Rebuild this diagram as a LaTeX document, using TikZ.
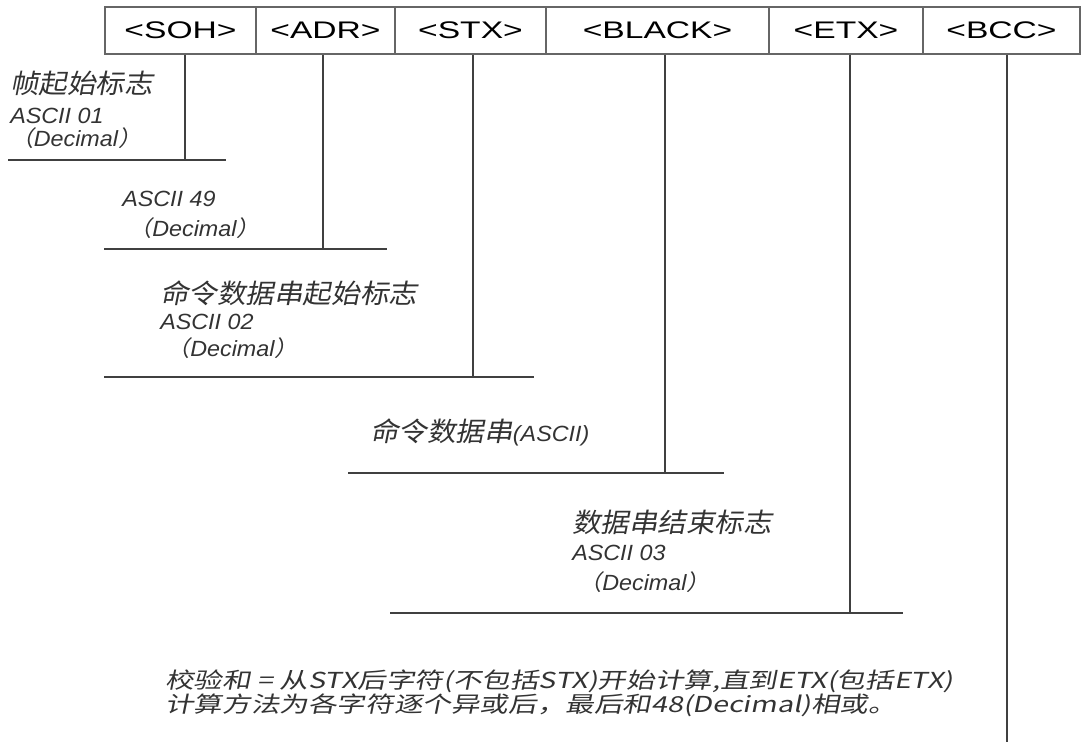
\documentclass[tikz,border=0pt]{standalone}
\usepackage{fontspec}
\setmainfont[FakeStretch=1.06]{Liberation Sans}
\newfontfamily\cjk[FakeSlant=0.2,FakeStretch=1.07]{Noto Sans CJK SC}
\newfontfamily\cjkwide[FakeSlant=0.2,FakeStretch=1.3]{Noto Sans CJK SC}
\newfontfamily\fieldfont[FakeStretch=1.4]{Liberation Sans}
\newcommand\dec{{\cjk （}Decimal{\cjk ）}}

\begin{document}
\begin{tikzpicture}[x=0.75pt, y=-0.75pt,
  field/.style={draw=black!60, line width=1.2pt, minimum height=35pt,
                inner sep=0pt, font=\fieldfont\fontsize{18}{20}\selectfont},
  note/.style={anchor=base west, align=left, inner sep=0pt, text=black!80,
               font=\itshape\fontsize{16.5}{21}\selectfont},
  lead/.style={draw=black!75, line width=1.4pt}]
  \useasboundingbox (0,0) rectangle (1084,742);

  % the frame
  \node[field, minimum width=113.25pt] (soh)   at (180.5,30.5) {<SOH>};
  \node[field, minimum width=104.25pt] (adr)   at (325.5,30.5) {<ADR>};
  \node[field, minimum width=113.25pt] (stx)   at (470.5,30.5) {<STX>};
  \node[field, minimum width=167.25pt] (black) at (657.5,30.5) {<BLACK>};
  \node[field, minimum width=115.5pt]  (etx)   at (846,30.5)   {<ETX>};
  \node[field, minimum width=117.75pt] (bcc)   at (1001.5,30.5) {<BCC>};

  % leaders with their bars
  \foreach \n/\x/\y/\l/\r in {soh/185/160/8/226, adr/323/249/104/387,
      stx/473/377/104/534, black/665/473/348/724, etx/850/613/390/903} {
    \coordinate (foot-\n) at (\x,\y);
    \coordinate (bar-\n-l) at (\l,\y);
    \coordinate (bar-\n-r) at (\r,\y);
    \draw[lead] (\n.south -| foot-\n) -- (foot-\n);
    \draw[lead] (bar-\n-l) -- (bar-\n-r);
  }
  \coordinate (foot-bcc) at (1007,742);
  \draw[lead] (bcc.south -| foot-bcc) -- (foot-bcc);

  % notes (anchored on the last line)
  \node[note] (soh-note) at (10,146)
    {{\cjk\fontsize{20}{21}\selectfont 帧起始标志}\\[1.5pt]ASCII 01\\[-4pt]\dec};
  \node[note] (adr-note) at (122,236) {ASCII 49\\[1.5pt]\ \dec};
  \node[note] (stx-note) at (160,356)
    {{\cjk\fontsize{20}{21}\selectfont 命令数据串起始标志}\\[-1.5pt]ASCII 02\\[-1pt]\ \dec};
  \node[note] (black-note) at (370,441)
    {{\cjk\fontsize{20}{21}\selectfont 命令数据串}(ASCII)};
  \node[note] (etx-note) at (572,590)
    {{\cjk\fontsize{20}{21}\selectfont 数据串结束标志}\\[0.5pt]ASCII 03\\[1pt]\ \dec};
  \node[note, font=\cjkwide\fontsize{16.5}{18}\selectfont] (bcc-note) at (165,712)
    {校验和 = 从STX后字符(不包括STX)开始计算,直到ETX(包括ETX)\\
     计算方法为各字符逐个异或后，最后和48(Decimal)相或。};
\end{tikzpicture}
\end{document}
